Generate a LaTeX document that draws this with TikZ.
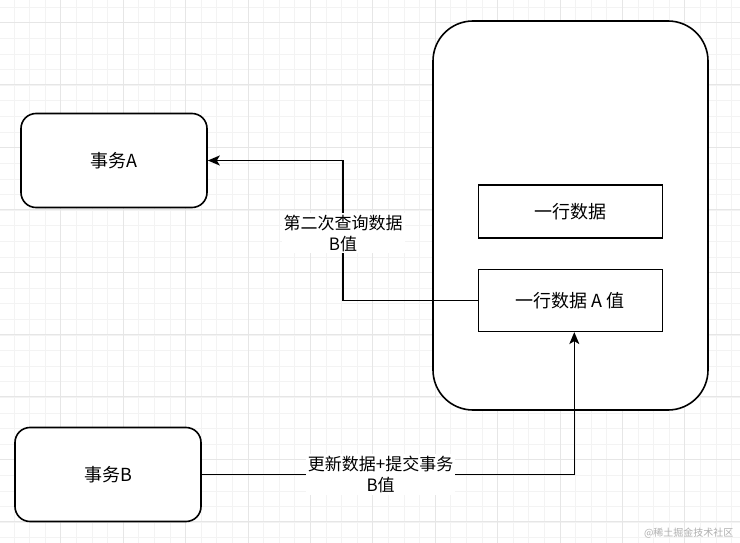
\documentclass[tikz,border=0pt]{standalone}
\usepackage{fontspec}
\setmainfont{Noto Sans CJK SC}
\usetikzlibrary{arrows.meta,positioning,calc}
\definecolor{gridminor}{RGB}{243,243,243}
\definecolor{gridmajor}{RGB}{230,230,230}
\definecolor{markgray}{RGB}{175,175,175}

\begin{document}
\begin{tikzpicture}[x=1pt, y=-1pt,
    txbox/.style={draw, line width=1.6pt, fill=white, rounded corners=15pt,
        minimum width=186pt, minimum height=94pt, font=\fontsize{18}{21}\selectfont},
    rowbox/.style={draw, line width=1.6pt, fill=white,
        minimum width=184pt, font=\fontsize{18}{21}\selectfont},
    flow/.style={line width=1.6pt, -{Stealth[length=12pt, width=10pt, inset=3pt]}},
    lbl/.style={fill=white, align=center, inner sep=2pt, font=\fontsize{17}{21}\selectfont}]
    \useasboundingbox (0,0) rectangle (740,543);
    \fill[white] (0,0) rectangle (740,543);

    % --- grid ---
    \foreach \i in {0,...,48} {
        \draw[gridminor, line width=0.8pt] ({-1.6+15.6*\i},0) -- ({-1.6+15.6*\i},543);
    }
    \foreach \i in {0,...,35} {
        \draw[gridminor, line width=0.8pt] (0,{7.3+15.6*\i}) -- (740,{7.3+15.6*\i});
    }
    \foreach \i in {0,...,12} {
        \draw[gridmajor, line width=0.8pt] ({-1.6+62.4*\i},0) -- ({-1.6+62.4*\i},543);
    }
    \foreach \i in {0,...,8} {
        \draw[gridmajor, line width=0.8pt] (0,{22.3+62.4*\i}) -- (740,{22.3+62.4*\i});
    }

    % --- storage ---
    \draw[line width=1.6pt, fill=white, rounded corners=40pt] (433,21) rectangle (708,410);
    \node[rowbox, minimum height=53pt] (row) at (570.3,211.5) {一行数据};
    \node[rowbox, minimum height=62pt] (rowA) at (570.3,300.3) {一行数据 A 值};

    % --- transactions ---
    \node[txbox] (txA) at (114,160.5) {事务A};
    \node[txbox] (txB) at (108,474.5) {事务B};

    % --- connectors ---
    \draw[flow] (rowA.west) -| (343,233) node[lbl] (lblRead) {第二次查询数据\\B值} |- (txA.east);
    \draw[flow] (txB.east) -| ([xshift=4pt]rowA.south)
        node[lbl, pos=0.24] (lblWrite) {更新数据+提交事务\\B值};

    % watermark
    \node[markgray, font=\fontsize{10}{12}\selectfont, anchor=east] (mark) at (737,533) {@稀土掘金技术社区};
\end{tikzpicture}
\end{document}
